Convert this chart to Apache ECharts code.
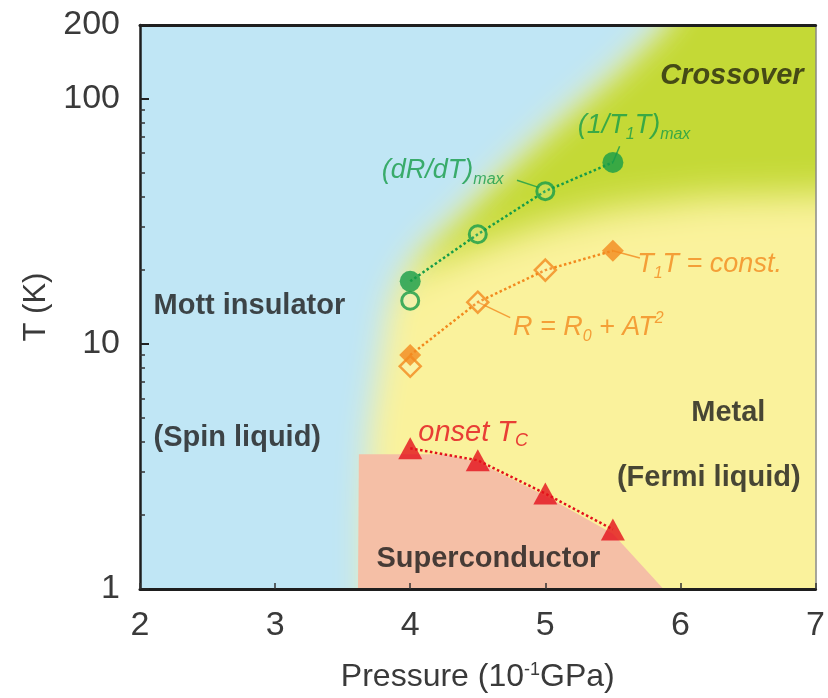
<!DOCTYPE html>
<html>
<head>
<meta charset="utf-8">
<script src="https://cdn.jsdelivr.net/npm/echarts@6/dist/echarts.min.js"></script>
<style>
  html, body { margin: 0; padding: 0; background: #fff; }
  #chart { width: 828px; height: 698px; }
</style>
</head>
<body>
<div id="chart"></div>
<script>
// 轴刻度
const tempLabels = [1, 10, 100, 200];
const tempMinorTicks = [2, 3, 4, 5, 6, 7, 8, 9, 20, 30, 40, 50, 60, 70, 80, 90];

// 测量数据 [压力(10^-1 GPa), T(K)]
const nmrPeak = [[4.0, 18], [5.5, 55]];              // (1/T1T)max 实心圆
const resPeak = [[4.0, 15], [4.5, 28], [5.0, 42]];   // (dR/dT)max 空心圆
const crossLine = [[4.0, 18], [4.5, 28], [5.0, 42], [5.5, 55]];
const t1tConst = [[4.0, 9], [5.5, 24]];              // T1T = const. 实心菱形
const fermiT2 = [[4.0, 8.1], [4.5, 14.8], [5.0, 20]]; // R = R0 + AT^2 空心菱形
const fermiLine = [[4.0, 9], [4.5, 14.8], [5.0, 20], [5.5, 24]];
const onsetTc = [[4.0, 3.75], [4.5, 3.35], [5.0, 2.45], [5.5, 1.75]];

// 相区边界
const mottEdge = [[3.67, 0.5], [3.67, 2], [3.7, 4.5], [3.77, 8], [3.84, 14], [3.93, 19],
  [4.08, 25], [4.32, 33], [4.65, 50], [5.05, 80], [5.5, 130], [5.85, 200], [6.05, 300]];
const crossoverLow = [[7.5, 42], [6.2, 40], [5.5, 36], [5.0, 31], [4.5, 25], [4.0, 19.5], [3.84, 14]];
const scEdge = [[3.61, 0.5], [3.62, 3.55], [4.25, 3.55], [4.5, 3.3], [5.0, 2.4], [5.5, 1.68], [5.95, 0.9], [5.95, 0.5]];

// 区域多边形
const mottRegion = [[1, 0.5]].concat(mottEdge, [[1, 300]]);
const crossoverRegion = mottEdge.slice(4).concat([[7.5, 300]], crossoverLow);

// 注释
const leaders = [
  [[5.55, 64], [5.5, 55]],
  [[4.79, 46.5], [4.95, 43.5]],
  [[5.5, 24], [5.7, 22.4]],
  [[4.5, 14.8], [4.74, 12.8]]
];
const notes = [
  { coord: [5.85, 124], text: '{b|Crossover}' },
  { coord: [5.24, 78], text: '{g|(1/T}{gs|1}{g|T)}{gs|max}' },
  { coord: [3.79, 51], text: '{g|(dR/dT)}{gs|max}' },
  { coord: [5.68, 21], text: '{o|T}{os|1}{o|T = const.}' },
  { coord: [4.76, 11.7], text: '{o|R = R}{os|0}{o| + AT}{op|2}' },
  { coord: [4.06, 4.35], text: '{r|onset T}{rs|C}' },
  { coord: [2.1, 14.3], text: '{k|Mott insulator}' },
  { coord: [2.1, 4.15], text: '{k|(Spin liquid)}' },
  { coord: [6.08, 5.24], text: '{k|Metal}' },
  { coord: [5.53, 2.85], text: '{k|(Fermi liquid)}' },
  { coord: [3.75, 1.32], text: '{k|Superconductor}' }
];

const FONT = 'Liberation Sans';
const GREEN = '#169c48';
const ORANGE = '#f28a1e';
const RED = '#e3101c';

// 软边区域：图形移出画布，只留下模糊阴影
function softRegion(points, color, blur) {
  return function (params, api) {
    const shift = 1500;
    return {
      type: 'polygon',
      shape: { points: points.map(p => { const c = api.coord(p); return [c[0] - shift, c[1]]; }) },
      style: { fill: color, shadowColor: color, shadowBlur: blur, shadowOffsetX: shift },
      silent: true
    };
  };
}

function hardRegion(points, color) {
  return function (params, api) {
    return {
      type: 'polygon',
      shape: { points: points.map(p => api.coord(p)) },
      style: { fill: color },
      silent: true
    };
  };
}

const rich = {
  b: { fontFamily: FONT, fontSize: 29, fontWeight: 'bold', fontStyle: 'italic', color: '#26260f', lineHeight: 34 },
  k: { fontFamily: FONT, fontSize: 29, fontWeight: 'bold', color: '#1a1a1a', lineHeight: 34 },
  g: { fontFamily: FONT, fontSize: 27, fontStyle: 'italic', color: GREEN, lineHeight: 34 },
  gs: { fontFamily: FONT, fontSize: 16, fontStyle: 'italic', color: GREEN, lineHeight: 16, verticalAlign: 'bottom' },
  o: { fontFamily: FONT, fontSize: 27, fontStyle: 'italic', color: ORANGE, lineHeight: 34 },
  os: { fontFamily: FONT, fontSize: 16, fontStyle: 'italic', color: ORANGE, lineHeight: 16, verticalAlign: 'bottom' },
  op: { fontFamily: FONT, fontSize: 16, fontStyle: 'italic', color: ORANGE, lineHeight: 16, verticalAlign: 'top' },
  r: { fontFamily: FONT, fontSize: 29, fontStyle: 'italic', color: RED, lineHeight: 34 },
  rs: { fontFamily: FONT, fontSize: 18, fontStyle: 'italic', color: RED, lineHeight: 18, verticalAlign: 'bottom' }
};

const chart = echarts.init(document.getElementById('chart'));

chart.setOption({
  backgroundColor: '#fff',
  animation: false,
  grid: {
    left: 140, right: 11, top: 25, bottom: 107,
    show: true, backgroundColor: '#faf29c', borderWidth: 0
  },
  xAxis: [
    {
      type: 'value', min: 2, max: 7, interval: 1, z: 10,
      name: '{a|Pressure (10}{s|-1}{a|GPa)}',
      nameLocation: 'middle', nameGap: 72,
      nameTextStyle: {
        rich: {
          a: { fontFamily: FONT, fontSize: 32, color: '#3a3a3a' },
          s: { fontFamily: FONT, fontSize: 18, color: '#3a3a3a', verticalAlign: 'top', lineHeight: 32 }
        }
      },
      axisLine: { lineStyle: { color: '#1e1e1e', width: 3 } },
      axisTick: { inside: true, length: 6, lineStyle: { color: '#333', width: 1.5 } },
      axisLabel: { fontFamily: FONT, fontSize: 34, color: '#3a3a3a', margin: 20 },
      splitLine: { show: false }
    },
    {
      type: 'value', min: 2, max: 7, position: 'top', z: 10,
      axisLine: { lineStyle: { color: '#1e1e1e', width: 3 } },
      axisTick: { show: false }, axisLabel: { show: false }, splitLine: { show: false }
    }
  ],
  yAxis: [
    {
      type: 'log', logBase: 10, min: 1, max: 200, z: 10,
      name: 'T (K)', nameLocation: 'middle', nameGap: 88,
      nameTextStyle: { fontFamily: FONT, fontSize: 31, color: '#3a3a3a' },
      axisLine: { lineStyle: { color: '#1e1e1e', width: 2.5 } },
      axisTick: { inside: true, length: 9, customValues: tempLabels, lineStyle: { color: '#222', width: 2 } },
      axisLabel: { fontFamily: FONT, fontSize: 34, color: '#3a3a3a', margin: 20, customValues: tempLabels },
      splitLine: { show: false }
    },
    {
      type: 'log', logBase: 10, min: 1, max: 200, position: 'left', z: 10,
      axisLine: { show: false },
      axisTick: { inside: true, length: 5, customValues: tempMinorTicks, lineStyle: { color: '#333', width: 1.5 } },
      axisLabel: { show: false }, splitLine: { show: false }
    },
    {
      type: 'log', logBase: 10, min: 1, max: 200, position: 'right', z: 10,
      axisLine: { show: true, lineStyle: { color: '#8a8a80', width: 1.5 } },
      axisTick: { show: false }, axisLabel: { show: false }, splitLine: { show: false }
    }
  ],
  series: [
    { type: 'custom', clip: true, z: 1, data: [[2, 1]], renderItem: softRegion(crossoverRegion, '#c4d936', 36) },
    { type: 'custom', clip: true, z: 1, data: [[2, 1]], renderItem: softRegion(mottRegion, '#c0e6f5', 30) },
    { type: 'custom', clip: true, z: 1, data: [[2, 1]], renderItem: hardRegion(scEdge, '#f5bfa6') },
    {
      type: 'custom', clip: true, z: 2, data: leaders.map((l, i) => [i]),
      renderItem: function (params, api) {
        const seg = leaders[params.dataIndex];
        const a = api.coord(seg[0]), b = api.coord(seg[1]);
        const color = params.dataIndex < 2 ? GREEN : ORANGE;
        return {
          type: 'line',
          shape: { x1: a[0], y1: a[1], x2: b[0], y2: b[1] },
          style: { stroke: color, lineWidth: 1.5, opacity: 0.8 }
        };
      }
    },
    {
      type: 'line', data: crossLine, symbol: 'none', z: 3,
      lineStyle: { color: GREEN, width: 2.5, type: 'dotted' }
    },
    {
      type: 'line', data: fermiLine, symbol: 'none', z: 3,
      lineStyle: { color: ORANGE, width: 2.5, type: 'dotted' }
    },
    {
      type: 'line', data: onsetTc, symbol: 'none', z: 3,
      lineStyle: { color: RED, width: 2.5, type: 'dotted' }
    },
    {
      type: 'scatter', data: resPeak, symbol: 'circle', symbolSize: 17, z: 4,
      itemStyle: { color: 'rgba(255,255,255,0.15)', borderColor: GREEN, borderWidth: 3 }
    },
    {
      type: 'scatter', data: nmrPeak, symbol: 'circle', symbolSize: 21, z: 4,
      itemStyle: { color: GREEN }
    },
    {
      type: 'scatter', data: fermiT2, symbol: 'diamond', symbolSize: [21, 21], z: 4,
      itemStyle: { color: 'rgba(255,255,255,0.15)', borderColor: ORANGE, borderWidth: 2.5 }
    },
    {
      type: 'scatter', data: t1tConst, symbol: 'diamond', symbolSize: [22, 22], z: 4,
      itemStyle: { color: ORANGE }
    },
    {
      type: 'scatter', data: onsetTc, symbol: 'triangle', symbolSize: [24, 22], z: 4,
      itemStyle: { color: RED }
    },
    {
      type: 'scatter', z: 5, symbolSize: 0, silent: true,
      data: notes.map(n => ({
        value: n.coord,
        label: { show: true, position: 'right', distance: 0, formatter: n.text, rich: rich }
      }))
    }
  ]
});
</script>
</body>
</html>
